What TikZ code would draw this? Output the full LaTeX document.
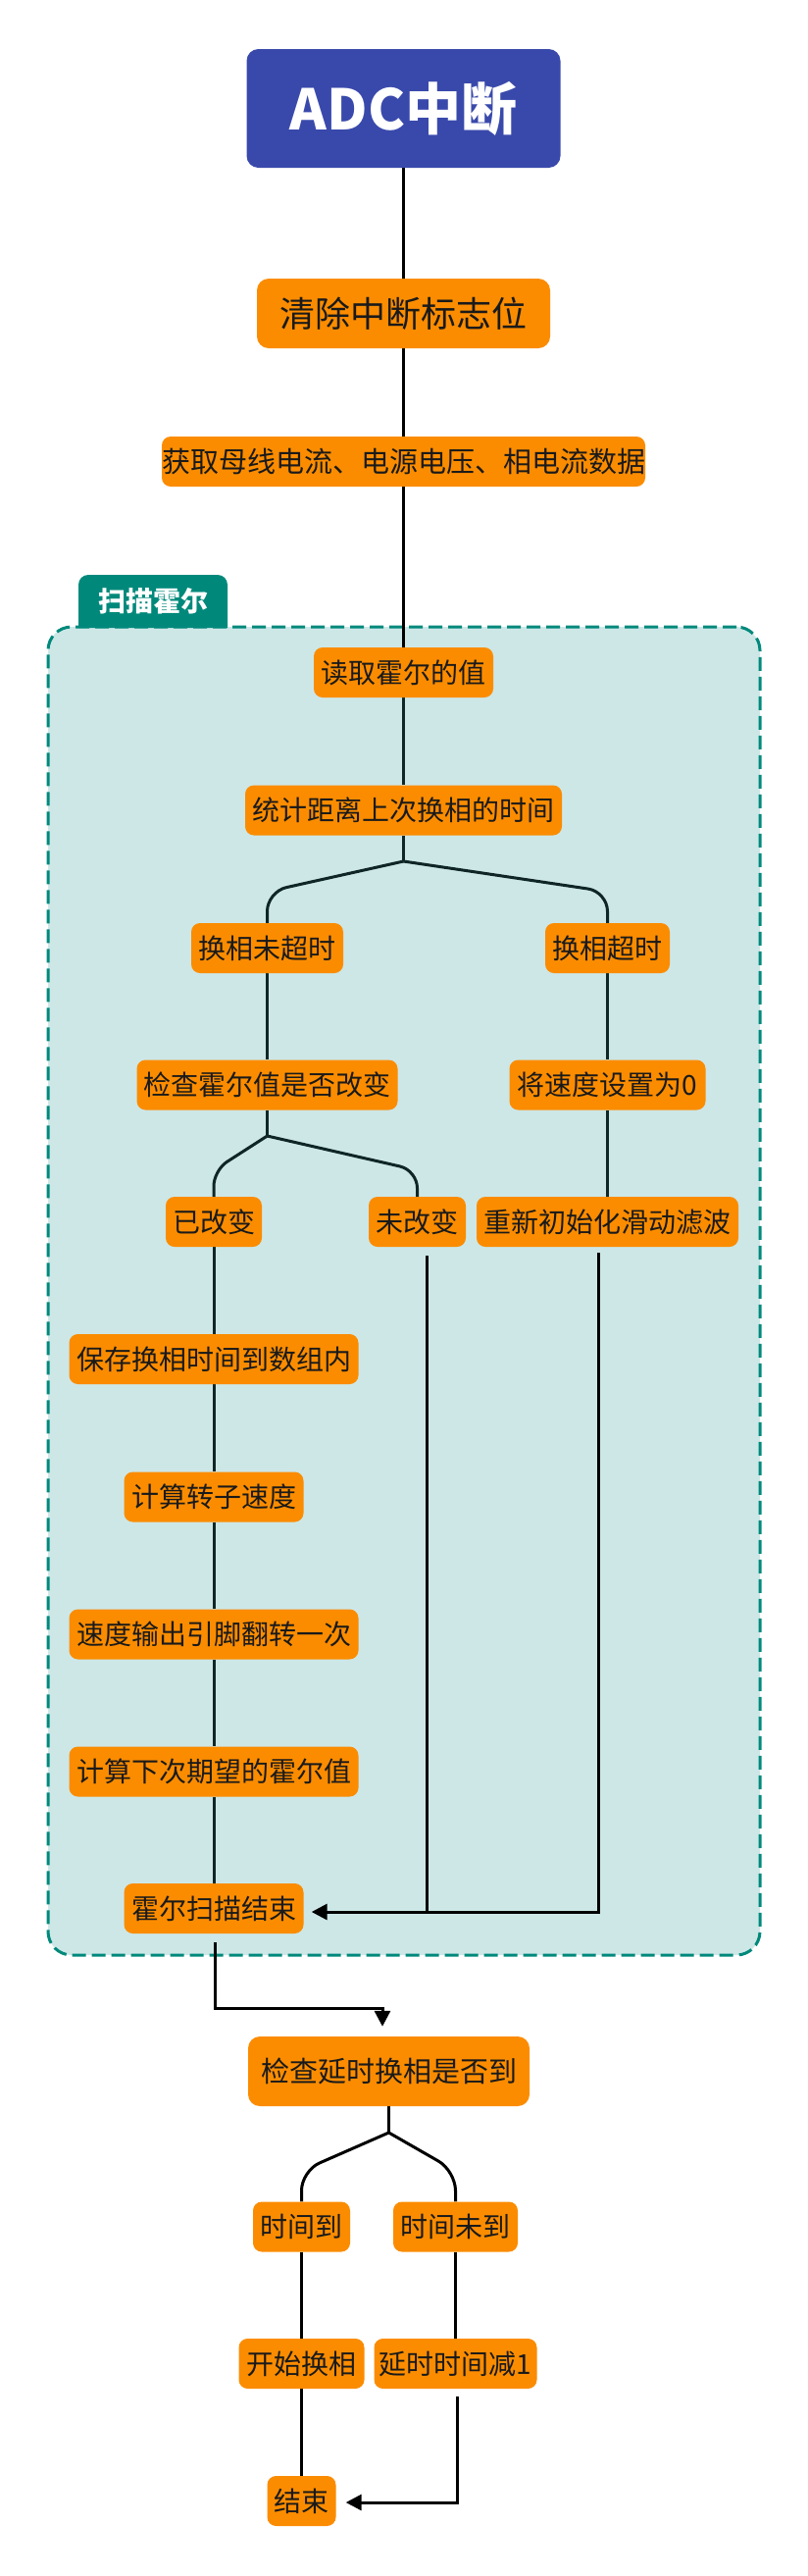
\documentclass[tikz,border=0pt]{standalone}
\usepackage{fontspec}
\setmainfont{Noto Sans CJK SC}
\usetikzlibrary{arrows.meta}
\definecolor{orng}{HTML}{FB8C00}
\definecolor{indig}{HTML}{3949AB}
\definecolor{tealc}{HTML}{00897B}
\definecolor{tealbg}{HTML}{CDE7E7}
\definecolor{lnk}{HTML}{102626}
\definecolor{txt}{HTML}{1A1A1A}
\pgfdeclarelayer{bg}
\pgfdeclarelayer{lines}
\pgfsetlayers{bg,lines,main}
\begin{document}
\begin{tikzpicture}[x=1pt,y=-1pt,
  box/.style={fill=orng, rounded corners=9pt, inner sep=0pt, minimum height=51pt,
    text=txt, font=\fontsize{28}{30}\selectfont, text height=23.2pt, text depth=2pt},
  tl/.style={draw=lnk, line width=3pt},
  al/.style={draw=black, line width=3pt},
  tip/.style={-{Triangle[length=16pt,width=16pt]}}
]
\useasboundingbox (0,0) rectangle (824,2626);

% nodes
\node[box, fill=indig, text=white, rounded corners=12pt, minimum width=320pt, minimum height=121pt,
  font=\fontsize{57}{60}\selectfont\bfseries, text height=47.3pt, text depth=4pt] (adc) at (411.5,110.5) {ADC中断};
\node[box, rounded corners=12pt, minimum width=299pt, minimum height=71pt,
  font=\fontsize{36}{38}\selectfont, text height=29.9pt, text depth=2.5pt] (clr) at (411.5,319.5) {清除中断标志位};
\node[box, minimum width=490pt, font=\fontsize{29}{31}\selectfont, text height=24.1pt, text depth=2pt] (get) at (411.5,470.5) {获取母线电流、电源电压、相电流数据};

\begin{pgfonlayer}{bg}
\node[draw=tealc, fill=tealbg, line width=3pt, dash pattern=on 14pt off 6pt,
  rounded corners=24pt, minimum width=726pt, minimum height=1354pt, inner sep=0pt] (scan) at (412,1316) {};
\fill[tealc] (80,640) [rounded corners=10pt] -- (80,586) -- (232,586) [sharp corners] -- (232,640) -- cycle;
\end{pgfonlayer}
\node[text=white, inner sep=0pt, font=\fontsize{28}{30}\selectfont\bfseries, text height=23.2pt, text depth=2pt] (tab) at (156,613) {扫描霍尔};

\node[box, minimum width=183pt] (read) at (411.5,685.5) {读取霍尔的值};
\node[box, minimum width=323pt] (stat) at (411.5,826) {统计距离上次换相的时间};
\node[box, minimum width=155pt] (nto) at (272.5,966.5) {换相未超时};
\node[box, minimum width=127pt] (to) at (619.5,966.5) {换相超时};
\node[box, minimum width=266pt] (chk) at (272.5,1106) {检查霍尔值是否改变};
\node[box, minimum width=200pt] (zero) at (619.5,1106) {将速度设置为0};
\node[box, minimum width=98pt] (chg) at (218,1245.5) {已改变};
\node[box, minimum width=99pt] (nchg) at (425.5,1245.5) {未改变};
\node[box, minimum width=267pt] (reinit) at (619.5,1245.5) {重新初始化滑动滤波};
\node[box, minimum width=295pt] (save) at (218,1385.5) {保存换相时间到数组内};
\node[box, minimum width=183pt] (speed) at (218,1526) {计算转子速度};
\node[box, minimum width=295pt] (pin) at (218,1666) {速度输出引脚翻转一次};
\node[box, minimum width=295pt] (next) at (218,1806) {计算下次期望的霍尔值};
\node[box, minimum width=183pt] (hend) at (218,1945.5) {霍尔扫描结束};

\node[box, rounded corners=12pt, minimum width=287pt, minimum height=71pt,
  font=\fontsize{29}{31}\selectfont, text height=24.1pt, text depth=2pt] (dchk) at (396.5,2111.5) {检查延时换相是否到};
\node[box, minimum width=99pt] (tup) at (307.5,2270) {时间到};
\node[box, minimum width=127pt] (tnot) at (464.5,2270) {时间未到};
\node[box, minimum width=128pt] (start) at (307.5,2409.5) {开始换相};
\node[box, minimum width=166pt] (dec) at (464.5,2409.5) {延时时间减1};
\node[box, minimum width=70pt] (fin) at (307.5,2549.5) {结束};

% connectors
\begin{pgfonlayer}{lines}
\draw[al] (adc.south) -- (clr.north);
\draw[al] (clr.south) -- (get.north);
\draw[al] (get.south) -- (read.north);
\draw[tl] (read.south) -- (stat.north);

\coordinate (s1) at (411.5,878);
\draw[tl] (stat.south) -- (s1);
\draw[tl, rounded corners=20pt] (s1) -- (nto.north |- 0,909) -- (nto.north);
\draw[tl, rounded corners=20pt] (s1) -- (to.north |- 0,909) -- (to.north);
\draw[tl] (nto.south) -- (chk.north);
\draw[tl] (to.south) -- (zero.north);
\draw[tl] (zero.south) -- (reinit.north);

\coordinate (s2) at (272.5,1158);
\draw[tl] (chk.south) -- (s2);
\draw[tl, rounded corners=16pt] (s2) -- (chg.north |- 0,1193) -- (chg.north);
\draw[tl, rounded corners=18pt] (s2) -- (nchg.north |- 0,1193) -- (nchg.north);
\draw[tl] (chg.south) -- (save.north);
\draw[tl] (save.south) -- (speed.north);
\draw[tl] (speed.south) -- (pin.north);
\draw[tl] (pin.south) -- (next.north);
\draw[tl] (next.south) -- (hend.north);

\coordinate (r0) at (610.5,1277);
\coordinate (n0) at (435.5,1280);
\coordinate (h1) at (318,1949);
\draw[al, tip] (r0) |- ([xshift=8pt,yshift=-3.5pt]hend.east);
\draw[al] (n0) -- (n0 |- h1);

\coordinate (e0) at (219,1980);
\coordinate (e1) at (390,2047);
\draw[al, tip, shorten >=10pt] (e0) |- (e1) -- ([xshift=-6.5pt]dchk.north);

\coordinate (s3) at (396.5,2174);
\draw[al] (dchk.south) -- (s3);
\draw[al, rounded corners=20pt] (s3) -- (tup.north |- 0,2213) -- (tup.north);
\draw[al, rounded corners=20pt] (s3) -- (tnot.north |- 0,2213) -- (tnot.north);
\draw[al] (tup.south) -- (start.north);
\draw[al] (tnot.south) -- (dec.north);
\draw[al] (start.south) -- (fin.north);

\coordinate (d0) at (466,2443);
\draw[al, tip] (d0) |- ([xshift=10pt,yshift=-1.5pt]fin.east);
\end{pgfonlayer}
\end{tikzpicture}
\end{document}
